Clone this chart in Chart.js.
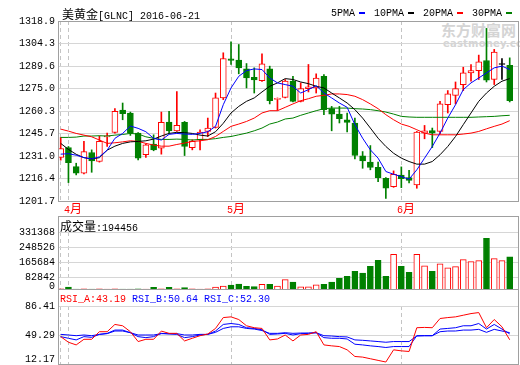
<!DOCTYPE html>
<html>
<head>
<meta charset="utf-8">
<script src="https://cdn.jsdelivr.net/npm/chart.js@4/dist/chart.umd.min.js"></script>
<style>
    body { margin: 0; background: #ffffff; }
    #wrap { position: relative; width: 520px; height: 365px; overflow: hidden;
            font-family: "Liberation Mono", monospace; font-size: 10px; color: #000; }
    canvas { position: absolute; left: 0; }
    #rsiChart { background: #ffffff; }
    .txt { position: absolute; white-space: nowrap; line-height: 14px; }
    .cjk { font-family: "Noto Sans CJK SC"; font-size: 12px; }
    .mark { display: inline-block; width: 6px; height: 2px; vertical-align: middle; margin: 0 9px 0 4px; }
    .wm { position: absolute; color: #d4d4d4; font-weight: bold; font-family: "Noto Sans CJK SC"; white-space: nowrap; }
</style>
</head>
<body>
<div id="wrap">
    <div class="wm" style="left:441px; top:21px; font-size:15px; line-height:18px;">东方财富网</div>
    <div class="wm" style="left:443px; top:38px; font-size:10px; line-height:11px; font-family:'DejaVu Sans'; letter-spacing:0.2px;">eastmoney.com</div>
    <canvas id="candleChart" width="520" height="208" style="top:0;"></canvas>
    <canvas id="volumeChart" width="520" height="76" style="top:216px;"></canvas>
    <canvas id="rsiChart" width="520" height="76" style="top:289px;"></canvas>
    <div id="title" class="txt" style="left:62px; top:7px;"></div>
    <div id="legend" class="txt" style="left:331px; top:7px;"></div>
    <div id="volLabel" class="txt" style="left:60px; top:219px;"></div>
    <div id="rsiLabel" class="txt" style="left:60px; top:293px;"></div>
</div>

<script>
/* ==========================================
   美黄金 GLNC daily K-line, volume, RSI
========================================== */

const titleText = "美黄金[GLNC] 2016-06-21";

// ---------------------------
// Prices
// ---------------------------

const openPrices = [1230.1, 1236.5, 1224.1, 1219.8, 1233.3, 1227.4, 1243.5, 1246.3, 1260.9, 1259.0,
    1245.9, 1231.8, 1238.7, 1236.1, 1253.1, 1247.4, 1252.9, 1236.5, 1241.6, 1247.0,
    1249.6, 1268.8, 1294.3, 1293.4, 1287.7, 1282.3, 1280.1, 1287.7, 1267.9, 1269.2,
    1279.7, 1266.6, 1274.9, 1275.3, 1282.9, 1261.8, 1258.3, 1254.6, 1252.4, 1231.1,
    1227.0, 1223.7, 1216.5, 1211.1, 1218.5, 1217.0, 1212.2, 1245.9, 1247.6, 1247.0,
    1264.4, 1270.5, 1277.5, 1285.1, 1286.6, 1293.2, 1280.8, 1290.6, 1290.1];

const highPrices = [1243.1, 1237.2, 1226.3, 1240.5, 1235.0, 1244.0, 1245.9, 1261.8, 1265.5, 1259.6,
    1246.3, 1238.7, 1244.8, 1259.6, 1260.1, 1272.9, 1253.5, 1241.6, 1248.1, 1255.7,
    1272.0, 1298.2, 1305.4, 1303.6, 1291.2, 1288.4, 1297.5, 1289.5, 1268.8, 1280.8,
    1282.9, 1278.6, 1290.6, 1284.5, 1284.0, 1263.3, 1263.3, 1259.0, 1255.7, 1233.9,
    1237.8, 1227.0, 1216.9, 1221.3, 1223.9, 1221.6, 1247.0, 1250.9, 1249.2, 1266.6,
    1273.6, 1279.2, 1288.8, 1290.6, 1296.7, 1314.1, 1300.4, 1294.5, 1294.9];

const lowPrices = [1228.3, 1213.7, 1218.7, 1219.3, 1220.4, 1227.0, 1237.2, 1245.9, 1254.6, 1244.4,
    1228.5, 1230.0, 1234.4, 1232.2, 1245.9, 1247.0, 1231.3, 1235.0, 1235.0, 1243.7,
    1249.2, 1267.7, 1290.6, 1284.5, 1275.3, 1272.0, 1279.6, 1264.9, 1260.7, 1268.8,
    1266.2, 1266.2, 1272.7, 1272.0, 1257.9, 1247.4, 1252.5, 1246.6, 1229.1, 1223.0,
    1222.0, 1214.3, 1203.4, 1210.6, 1210.4, 1213.5, 1210.0, 1242.2, 1236.5, 1245.3,
    1259.0, 1264.9, 1273.6, 1279.7, 1280.8, 1279.2, 1277.5, 1280.8, 1266.2];

const closePrices = [1235.9, 1226.7, 1219.8, 1233.9, 1227.8, 1240.5, 1244.2, 1260.1, 1258.5, 1245.9,
    1229.6, 1238.3, 1235.0, 1252.9, 1247.4, 1250.9, 1237.2, 1240.5, 1246.6, 1249.2,
    1268.8, 1294.5, 1293.2, 1288.4, 1281.8, 1280.5, 1291.0, 1267.0, 1268.4, 1279.7,
    1266.6, 1274.9, 1276.0, 1281.8, 1261.2, 1258.3, 1255.3, 1252.9, 1231.3, 1227.8,
    1223.5, 1216.9, 1210.0, 1219.1, 1216.3, 1215.1, 1246.6, 1247.4, 1245.9, 1264.9,
    1271.4, 1274.9, 1285.1, 1286.6, 1292.3, 1280.3, 1298.6, 1290.6, 1267.0];

// ---------------------------
// Moving averages
// ---------------------------

const ma5 = [1232.2, 1232.5, 1231.5, 1230.0, 1229.1, 1230.5, 1234.8, 1242.5, 1245.7, 1250.5,
    1249.0, 1246.8, 1242.5, 1241.4, 1245.1, 1245.7, 1245.3, 1245.1, 1245.7, 1246.8,
    1250.3, 1264.4, 1275.3, 1282.9, 1286.6, 1287.7, 1287.3, 1281.8, 1278.6, 1277.5,
    1276.4, 1272.0, 1274.2, 1276.8, 1272.0, 1268.8, 1265.5, 1262.7, 1251.4, 1242.6,
    1235.0, 1229.6, 1220.9, 1219.1, 1217.6, 1215.9, 1222.0, 1229.6, 1237.2, 1245.9,
    1255.7, 1264.4, 1274.2, 1278.6, 1281.8, 1285.1, 1288.4, 1289.5, 1287.3];

const ma10 = [1239.2, 1235.3, 1232.1, 1229.9, 1229.1, 1229.9, 1234.8, 1237.4, 1239.2, 1240.2,
    1240.5, 1240.9, 1242.0, 1244.0, 1245.7, 1246.4, 1246.2, 1245.7, 1244.6, 1244.0,
    1246.8, 1252.3, 1259.0, 1263.3, 1266.6, 1268.8, 1272.7, 1276.4, 1278.6, 1281.4,
    1280.8, 1279.2, 1278.1, 1276.4, 1275.3, 1272.0, 1268.8, 1265.5, 1261.2, 1255.7,
    1249.2, 1242.6, 1237.2, 1232.8, 1229.6, 1227.4, 1225.7, 1225.7, 1227.4, 1231.8,
    1237.2, 1243.7, 1251.4, 1259.0, 1266.6, 1272.0, 1276.4, 1279.7, 1281.4];

const ma20 = [1248.5, 1247.2, 1245.7, 1244.6, 1243.5, 1241.4, 1239.2, 1239.6, 1240.2, 1240.9,
    1240.5, 1239.2, 1238.1, 1237.4, 1237.4, 1238.5, 1239.4, 1240.5, 1240.9, 1241.6,
    1243.7, 1247.0, 1250.3, 1251.8, 1253.5, 1255.7, 1259.0, 1260.5, 1260.5, 1262.7,
    1264.9, 1267.0, 1268.3, 1269.9, 1270.5, 1271.4, 1271.4, 1271.0, 1269.9, 1267.7,
    1264.9, 1261.8, 1257.9, 1254.6, 1251.8, 1250.3, 1248.1, 1245.9, 1244.8, 1244.8,
    1244.8, 1244.8, 1245.3, 1245.9, 1247.0, 1248.7, 1250.3, 1251.8, 1254.0];

const ma30 = [1243.1, 1243.1, 1243.3, 1244.0, 1244.0, 1244.2, 1244.0, 1244.6, 1245.0, 1245.7,
    1245.3, 1243.5, 1242.5, 1241.8, 1241.8, 1242.0, 1241.8, 1241.4, 1241.8, 1241.8,
    1242.3, 1243.1, 1243.7, 1244.8, 1245.9, 1247.4, 1249.2, 1251.8, 1253.1, 1255.1,
    1255.7, 1257.5, 1259.0, 1260.5, 1261.8, 1262.2, 1262.2, 1262.2, 1261.8, 1261.6,
    1261.2, 1260.5, 1259.6, 1258.3, 1256.8, 1256.4, 1256.2, 1256.2, 1256.2, 1256.2,
    1256.2, 1256.2, 1256.2, 1256.2, 1256.4, 1256.6, 1256.8, 1257.2, 1257.5];

const maLabels = ["5PMA", "10PMA", "20PMA", "30PMA"];

// ---------------------------
// Volume and RSI
// ---------------------------

const volumes = [17000, 27600, 16000, 17000, 16000, 18000, 16000, 17000, 16000, 16000,
    17000, 16000, 25800, 17000, 25800, 18000, 24000, 17000, 16000, 18000,
    27600, 33000, 38700, 44000, 31000, 30000, 42300, 42300, 33000, 68000,
    55000, 29000, 29000, 40000, 42000, 55000, 75000, 86000, 114000, 105000,
    142000, 175000, 86000, 208000, 142000, 109000, 208000, 145000, 114000, 156000,
    134000, 140000, 179000, 168000, 173000, 296000, 184000, 173000, 194456];

const rsiA = [47.2, 40.0, 36.6, 43.8, 43.8, 53.5, 53.5, 62.8, 61.1, 53.5,
    40.9, 43.8, 43.8, 54.3, 51.4, 51.4, 41.7, 45.1, 48.4, 50.6,
    57.7, 71.6, 72.5, 69.1, 61.1, 58.6, 57.7, 43.0, 44.2, 49.3,
    41.7, 49.3, 50.1, 53.5, 36.6, 35.4, 34.5, 30.3, 21.8, 21.0,
    18.9, 16.8, 14.7, 30.3, 29.0, 28.2, 58.6, 59.0, 58.6, 70.4,
    71.6, 72.5, 74.6, 76.7, 78.0, 58.6, 69.1, 59.8, 43.19];

const rsiB = [47.2, 45.1, 43.0, 47.2, 46.3, 50.1, 51.4, 55.6, 55.6, 52.2,
    47.2, 45.9, 47.2, 51.4, 50.6, 50.1, 45.9, 47.2, 49.3, 50.1,
    54.4, 62.8, 64.0, 62.8, 58.6, 57.7, 56.0, 50.1, 50.6, 51.4,
    49.3, 51.0, 51.4, 52.2, 45.9, 45.1, 45.1, 44.2, 37.5, 36.6,
    35.4, 34.5, 33.3, 34.5, 34.5, 34.5, 48.4, 48.4, 48.4, 56.9,
    57.7, 58.6, 61.1, 61.1, 64.0, 56.9, 62.8, 56.9, 50.64];

const rsiC = [50.1, 49.3, 48.4, 49.3, 48.4, 50.1, 51.0, 54.4, 54.4, 52.2,
    49.3, 49.3, 49.3, 51.0, 51.0, 51.0, 49.3, 49.3, 50.1, 50.1,
    52.7, 57.7, 59.8, 59.8, 57.7, 56.9, 55.0, 51.4, 51.4, 52.2,
    51.4, 51.8, 51.8, 52.2, 48.4, 48.0, 47.2, 46.8, 43.0, 42.5,
    41.7, 40.9, 40.0, 40.9, 40.9, 40.9, 48.0, 48.4, 48.4, 53.5,
    54.4, 54.4, 55.6, 55.6, 56.5, 52.7, 56.5, 54.4, 52.30];

// ---------------------------
// Axis ticks
// ---------------------------

const priceTicks = [1201.7, 1216.4, 1231.0, 1245.7, 1260.3, 1275.0, 1289.6, 1304.3, 1318.9];
const volumeTicks = [0, 82842, 165684, 248526, 331368];
const rsiTicks = [12.17, 49.29, 86.41];
const monthTicks = [0, 1, 22, 44];
const monthLabels = ["", "4月", "5月", "6月"];


const RED = "#ff0000";
const GREEN = "#008000";
const BLUE = "#0000ff";
const BLACK = "#000000";
const maColors = [BLUE, BLACK, RED, GREEN];

const xMin = -0.35;
const xMax = 59.2;

function asPoints(arr) {
    return arr.map(function (v, i) { return { x: i, y: v }; });
}

function candleColor(i) {
    if (closePrices[i] > openPrices[i]) return RED;
    if (closePrices[i] < openPrices[i]) return GREEN;
    return BLACK;
}

// wrap CJK characters so they get the CJK font
function mixed(text) {
    return text.replace(/([^\x00-\x7f]+)/g, '<span class="cjk">$1</span>');
}


// ---------------------------
// Plugins: frame + side labels
// ---------------------------

const framePlugin = {
    id: "frame",
    afterDraw(chart, args, opts) {
        const ctx = chart.ctx;
        const a = chart.chartArea;
        const top = (opts.top === undefined || opts.top === null) ? a.top : opts.top;
        ctx.save();
        ctx.strokeStyle = "#a0a0a0";
        ctx.lineWidth = 1;
        ctx.strokeRect(Math.round(a.left) + 0.5, Math.round(top) + 0.5,
            Math.round(a.right - a.left) - 1, Math.round(a.bottom - top));
        ctx.restore();
    }
};

const sideLabels = {
    id: "sideLabels",
    afterDraw(chart, args, opts) {
        const ctx = chart.ctx;
        const scale = chart.scales.y;
        ctx.save();
        ctx.font = '10px "Liberation Mono"';
        ctx.fillStyle = "#000000";
        ctx.textAlign = "right";
        ctx.textBaseline = "middle";
        scale.ticks.forEach(function (t) {
            let y = scale.getPixelForValue(t.value);
            if (opts.maxY) y = Math.min(y, opts.maxY);
            ctx.fillText(t.value.toFixed(opts.digits), 55, y);
        });
        ctx.restore();
    }
};

function xAxis() {
    return {
        type: "linear",
        offset: false,
        min: xMin,
        max: xMax,
        afterBuildTicks: function (s) { s.ticks = monthTicks.map(function (v) { return { value: v }; }); },
        ticks: { display: false },
        grid: { color: "#c4c4c4", drawTicks: false, offset: false },
        border: { display: false, dash: [4, 3] }
    };
}

function yAxis(min, max, ticks) {
    return {
        min: min,
        max: max,
        afterBuildTicks: function (s) { s.ticks = ticks.map(function (v) { return { value: v }; }); },
        afterFit: function (s) { s.width = 58; },
        ticks: { display: false },
        grid: { color: "#d6d6d6", drawTicks: false },
        border: { display: false }
    };
}

const commonPlugins = {
    legend: { display: false },
    tooltip: { enabled: false }
};


// ---------------------------
// K-line with moving averages
// ---------------------------

const candleCanvas = document.getElementById("candleChart");

const maSets = [ma5, ma10, ma20, ma30].map(function (arr, k) {
    return {
        type: "line",
        label: maLabels[k],
        data: asPoints(arr),
        borderColor: maColors[k],
        borderWidth: 1,
        pointRadius: 0,
        tension: 0,
        order: 0
    };
});

const candleChart = new Chart(candleCanvas, {

    type: "bar",

    data: {

        datasets: maSets.concat([

            {
                label: "body",
                data: openPrices.map(function (o, i) { return { x: i, y: [o, closePrices[i]] }; }),
                backgroundColor: openPrices.map(function (o, i) { return candleColor(i) === RED ? "#ffffff" : candleColor(i); }),
                borderColor: openPrices.map(function (o, i) { return candleColor(i); }),
                borderWidth: 1,
                borderSkipped: false,
                barThickness: 6,
                minBarLength: 1,
                grouped: false,
                order: 1
            },

            {
                label: "wick",
                data: lowPrices.map(function (l, i) { return { x: i, y: [l, highPrices[i]] }; }),
                backgroundColor: lowPrices.map(function (l, i) { return candleColor(i); }),
                borderWidth: 0,
                barThickness: 1,
                grouped: false,
                order: 2
            }

        ])

    },

    options: {

        responsive: false,
        animation: false,
        devicePixelRatio: 1,
        events: [],

        layout: { padding: { top: 21, right: 1, bottom: 7, left: 0 } },

        plugins: Object.assign({ frame: {}, sideLabels: { digits: 1 } }, commonPlugins),

        scales: {
            x: xAxis(),
            y: yAxis(priceTicks[0], priceTicks[priceTicks.length - 1], priceTicks)
        }

    },

    plugins: [framePlugin, sideLabels]

});


// ---------------------------
// Volume
// ---------------------------

const volumeCanvas = document.getElementById("volumeChart");

new Chart(volumeCanvas, {

    type: "bar",

    data: {

        datasets: [{

            label: "成交量",

            data: asPoints(volumes),

            backgroundColor: volumes.map(function (v, i) { return closePrices[i] >= openPrices[i] ? "#ffffff" : GREEN; }),

            borderColor: volumes.map(function (v, i) { return closePrices[i] >= openPrices[i] ? RED : GREEN; }),

            borderWidth: 1,
            borderSkipped: false,
            barThickness: 6,
            grouped: false

        }]

    },

    options: {

        responsive: false,
        animation: false,
        devicePixelRatio: 1,
        events: [],

        layout: { padding: { top: 16, right: 1, bottom: 0, left: 0 } },

        plugins: Object.assign({ frame: { top: 0 }, sideLabels: { digits: 0, maxY: 70 } }, commonPlugins),

        scales: {
            x: xAxis(),
            y: yAxis(volumeTicks[0], volumeTicks[volumeTicks.length - 1], volumeTicks)
        }

    },

    plugins: [framePlugin, sideLabels]

});


// ---------------------------
// RSI
// ---------------------------

const rsiCanvas = document.getElementById("rsiChart");

const rsiNames = ["RSI_A", "RSI_B", "RSI_C"];
const rsiColors = [RED, BLUE, BLUE];

new Chart(rsiCanvas, {

    type: "line",

    data: {

        datasets: [rsiA, rsiB, rsiC].map(function (arr, k) {
            return {
                label: rsiNames[k],
                data: asPoints(arr),
                borderColor: rsiColors[k],
                borderWidth: 1,
                pointRadius: 0,
                tension: 0
            };
        })

    },

    options: {

        responsive: false,
        animation: false,
        devicePixelRatio: 1,
        events: [],

        layout: { padding: { top: 17, right: 1, bottom: 1, left: 0 } },

        plugins: Object.assign({ frame: { top: 0 }, sideLabels: { digits: 2, maxY: 70 } }, commonPlugins),

        scales: {
            x: xAxis(),
            y: yAxis(rsiTicks[0], rsiTicks[rsiTicks.length - 1], rsiTicks)
        }

    },

    plugins: [framePlugin, sideLabels]

});


// ---------------------------
// Texts
// ---------------------------

document.getElementById("title").innerHTML = mixed(titleText);

document.getElementById("legend").innerHTML = maLabels.map(function (name, k) {
    return name + '<span class="mark" style="background:' + maColors[k] + ';' + (k === maLabels.length - 1 ? 'margin-right:0;' : '') + '"></span>';
}).join("");

document.getElementById("volLabel").innerHTML = mixed("成交量:" + volumes[volumes.length - 1]);

document.getElementById("rsiLabel").innerHTML = [rsiA, rsiB, rsiC].map(function (arr, k) {
    return '<span style="color:' + rsiColors[k] + ';">' + rsiNames[k] + ":" + arr[arr.length - 1].toFixed(2) + '</span>';
}).join(" ");

const wrap = document.getElementById("wrap");
const xScale = candleChart.scales.x;

monthTicks.forEach(function (v, k) {
    if (!monthLabels[k]) return;
    const div = document.createElement("div");
    div.className = "txt";
    div.style.color = RED;
    div.style.left = Math.round(xScale.getPixelForValue(v) - 4) + "px";
    div.style.top = "201px";
    div.innerHTML = mixed(monthLabels[k]);
    wrap.appendChild(div);
});
</script>
</body>
</html>
